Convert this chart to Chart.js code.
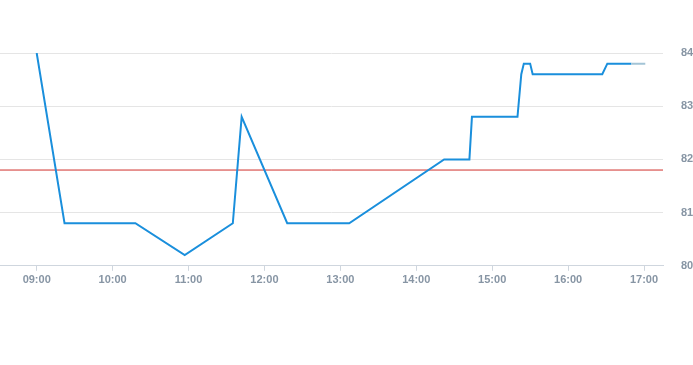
<!DOCTYPE html>
<html>
<head>
<meta charset="utf-8">
<script src="https://cdn.jsdelivr.net/npm/chart.js@4/dist/chart.umd.min.js"></script>
<style>
    body { margin: 0; background: #fff; }
    #wrap { width: 693px; height: 365px; }
</style>
</head>
<body>
<div id="wrap"><canvas id="priceChart"></canvas></div>
<script>
// 1. DATOS
const times = ['09:00', '09:22', '10:18', '10:57', '11:35', '11:42', '12:18', '13:07', '14:22', '14:42',
               '14:44', '15:20', '15:23', '15:25', '15:30', '15:32', '16:27', '16:31', '16:50', '17:01'];
const values = [84.0, 80.8, 80.8, 80.2, 80.8, 82.8, 80.8, 80.8, 82.0, 82.0,
                82.8, 82.8, 83.6, 83.8, 83.8, 83.6, 83.6, 83.8, 83.8, 83.8];
const hourTicks = ['09:00', '10:00', '11:00', '12:00', '13:00', '14:00', '15:00', '16:00', '17:00'];
const refValue = 81.8;
const xRange = ['08:31', '17:15'];
const yRange = [80, 84];

// 2. UTILIDADES
function toMin(t) {
    const [h, m] = t.split(':').map(Number);
    return h * 60 + m;
}
function toLabel(v) {
    const h = Math.floor(v / 60), m = Math.round(v % 60);
    return String(h).padStart(2, '0') + ':' + String(m).padStart(2, '0');
}

const xMin = toMin(xRange[0]);
const xMax = toMin(xRange[1]);
const points = times.map((t, i) => ({ x: toMin(t), y: values[i] }));
const lastIdx = points.length - 1;

// 3. GRÁFICO
new Chart(document.getElementById('priceChart'), {
    type: 'line',
    data: {
        datasets: [
            {
                data: points,
                borderColor: '#1a8fdc',
                borderWidth: 2,
                pointRadius: 0,
                tension: 0,
                segment: {
                    borderColor: ctx => ctx.p1DataIndex === lastIdx ? '#a3c4d6' : '#1a8fdc'
                }
            },
            {
                data: [{ x: xMin, y: refValue }, { x: xMax, y: refValue }],
                borderColor: '#d0302b',
                borderWidth: 1,
                pointRadius: 0
            }
        ]
    },
    options: {
        responsive: true,
        maintainAspectRatio: false,
        animation: false,
        layout: { padding: { top: 53, bottom: 75, left: 0, right: 0 } },
        plugins: { legend: { display: false }, tooltip: { enabled: false } },
        scales: {
            x: {
                type: 'linear',
                min: xMin,
                max: xMax,
                afterBuildTicks: scale => { scale.ticks = hourTicks.map(t => ({ value: toMin(t) })); },
                grid: { drawOnChartArea: false, drawTicks: true, tickLength: 5, color: '#cfd6de' },
                border: { display: true, color: '#cfd6de' },
                ticks: {
                    autoSkip: false,
                    maxRotation: 0,
                    padding: 3,
                    color: '#8795a4',
                    font: { family: 'Arial', size: 11, weight: 'bold' },
                    callback: v => toLabel(v)
                }
            },
            y: {
                position: 'right',
                min: yRange[0],
                max: yRange[1],
                afterFit: scale => { scale.width = 30; },
                grid: { color: '#e5e5e5', drawTicks: false },
                border: { display: false },
                ticks: {
                    stepSize: 1,
                    padding: 18,
                    color: '#8795a4',
                    font: { family: 'Arial', size: 11, weight: 'bold' }
                }
            }
        }
    }
});
</script>
</body>
</html>
